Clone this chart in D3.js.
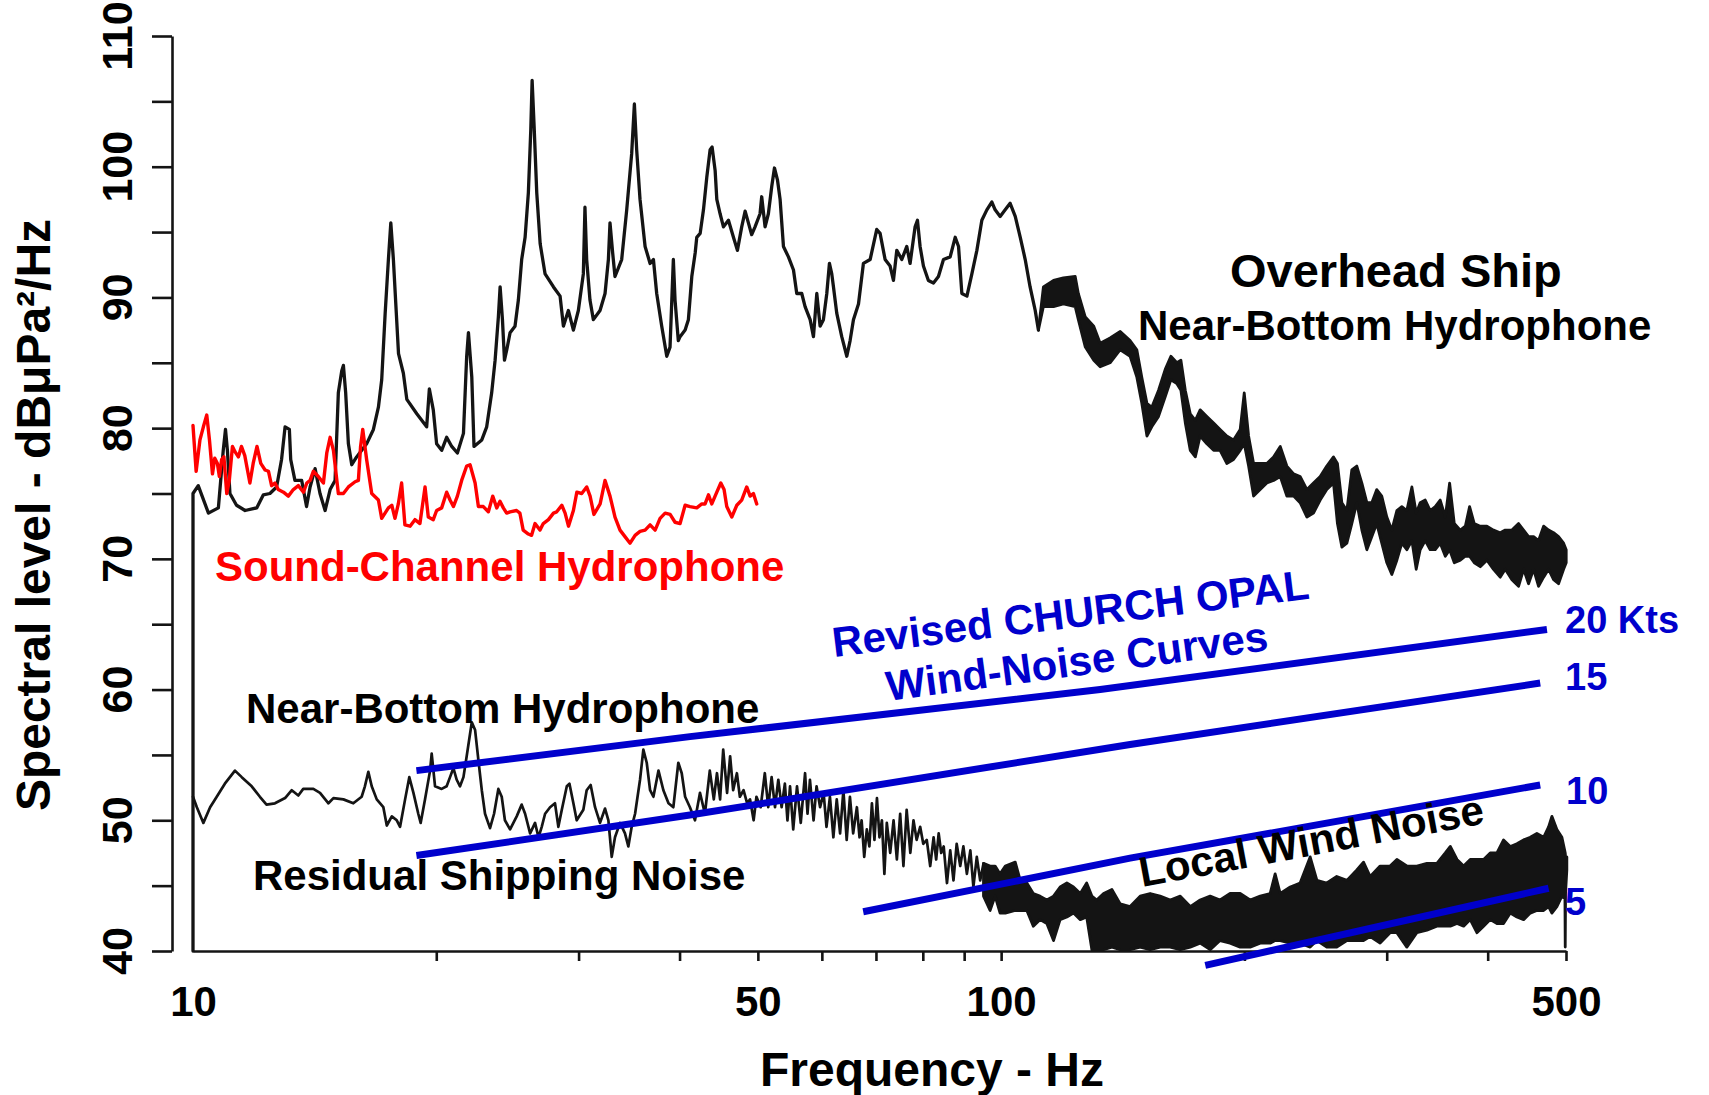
<!DOCTYPE html>
<html><head><meta charset="utf-8">
<script src="https://cdn.jsdelivr.net/npm/d3@7"></script>
<style>
html,body{margin:0;padding:0;background:#fff;}
svg{display:block;}
text{font-family:"Liberation Sans", Arial, Helvetica, sans-serif;font-weight:bold;}
</style></head><body>
<svg id="chart" width="1709" height="1095"></svg>
<script>
// ---------- axis values ----------
const xTickValues = [20,30,40,50,60,70,80,90,100,200,300,400,500];
const xLabelValues = [10,50,100,500];
const yTickValues = [40,45,50,55,60,65,70,75,80,85,90,95,100,105,110];
const yLabelValues = [40,50,60,70,80,90,100,110];

// ---------- Overhead ship, near-bottom hydrophone [Hz, dB] ----------
const shipUpperLine = [
[10,40],[10,75.0],[10.15,75.6],[10.45,73.5],[10.75,73.9],[10.9,78.3],[10.97,79.9],[11.03,78.3],[11.11,75.0],[11.32,74.1],[11.6,73.7],[11.99,73.9],[12.22,74.9],[12.45,75.0],[12.69,75.5],[12.87,77.6],[13.0,80.1],[13.16,79.9],[13.21,77.6],[13.37,76.0],[13.63,76.0],[13.82,74.0],[13.96,75.5],[14.16,76.9],[14.36,75.0],[14.57,73.7],[14.78,75.3],[14.99,76.0],[15.13,82.7],[15.28,84.4],[15.35,84.8],[15.45,82.7],[15.57,78.8],[15.72,77.2],[15.94,77.8],[16.4,78.8],[16.72,79.9],[16.96,81.6],[17.12,83.7],[17.29,88.8],[17.45,92.9],[17.57,95.7],[17.7,92.9],[17.84,89.0],[17.96,85.7],[18.21,84.2],[18.39,82.2],[18.92,81.1],[19.46,80.1],[19.61,83.0],[19.83,81.4],[20.02,78.8],[20.31,78.3],[20.6,79.3],[20.9,78.6],[21.24,78.1],[21.61,79.6],[21.81,85.5],[21.92,87.3],[22.13,83.9],[22.27,78.6],[22.77,79.1],[23.09,80.1],[23.42,82.7],[23.65,85.2],[23.87,88.5],[23.99,90.8],[24.15,88.3],[24.29,85.2],[24.45,86.0],[24.68,87.3],[25.03,87.8],[25.27,89.8],[25.51,92.9],[25.76,94.6],[26.0,98.0],[26.18,102.8],[26.28,106.6],[26.43,103.1],[26.63,98.0],[26.89,94.1],[27.27,91.8],[27.93,90.8],[28.46,90.1],[28.73,87.8],[29.14,89.0],[29.56,87.5],[29.98,89.0],[30.41,91.8],[30.55,96.9],[30.7,92.9],[30.99,89.8],[31.29,88.3],[31.89,89.0],[32.35,90.3],[32.66,92.9],[32.81,95.7],[33.06,93.4],[33.28,91.6],[33.92,92.9],[34.41,96.7],[34.9,101.0],[35.17,104.8],[35.4,101.3],[35.74,97.5],[36.26,93.9],[36.78,92.6],[37.13,92.9],[37.48,90.3],[38.02,87.8],[38.57,85.5],[38.93,86.2],[39.3,92.9],[39.49,89.8],[39.86,86.7],
[40.06,87.0],[40.64,87.5],[41.02,88.3],[41.42,91.6],[41.82,93.4],[42.01,94.6],[42.42,94.9],[42.82,96.7],[43.23,99.2],[43.64,101.3],[43.89,101.5],[44.27,99.7],[44.48,97.5],[44.9,96.4],[45.33,95.4],[45.98,95.9],[46.64,94.6],[47.17,93.6],[47.75,95.4],[48.22,96.6],[48.67,95.7],[49.13,94.8],[49.6,95.4],[50.31,96.4],[50.55,97.7],[51.04,95.4],[51.52,96.4],[52.02,98.5],[52.42,99.9],[52.87,99.0],[53.27,97.5],[53.78,93.9],[54.55,93.1],[55.34,92.1],[55.86,90.3],[56.66,90.3],[57.2,89.3],[58.03,88.3],[58.58,87.0],[59.14,90.3],[59.7,87.8],[60.27,88.3],[60.85,90.3],[61.31,92.6],[61.72,91.8],[62.02,90.8],[62.6,88.8],[63.5,87.0],[64.42,85.5],[65.03,86.7],[65.65,88.3],[66.6,89.5],[67.54,92.6],[68.85,92.9],[70.16,95.2],[70.83,94.9],[71.85,92.9],[72.88,92.4],[73.58,91.3],[74.28,93.6],[75.35,92.9],[76.43,93.9],[77.15,92.6],[78.26,95.4],[78.79,95.9],[79.38,93.9],[80.14,92.4],[81.28,91.3],[82.46,91.1],[83.64,91.6],[84.85,92.9],[86.48,93.1],[87.73,94.6],[88.57,93.9],[89.41,90.3],[90.71,90.1],[92.0,91.8],[93.32,93.6],[94.65,95.9],[96.01,96.7],[97.37,97.3],[98.31,96.7],[99.72,96.2],[101.16,96.7],[102.6,97.2],[104.1,96.2],[105.6,94.6],[107.1,92.9],[108.6,90.8],[110.2,89.0],[111.2,87.5]
];
// dense part of the same trace [Hz, low dB, high dB]
const shipUpperBand = [
[111.2,87.5,87.5],[112.8,89.3,90.8],[116.1,89.3,91.3],[119.4,89.5,91.5],[123.5,89.3,91.6],[124.6,88.3,90.3],[127.1,86.2,88.5],[130.2,85.2,87.8],[132.6,84.7,86.5],[136.4,85.0,86.9],[140.4,86.0,87.4],[144.4,85.5,86.7],[147.2,83.9,86.0],[149.3,81.9,83.9],[151.5,79.4,81.9],[153.6,80.1,81.6],[156.6,80.9,82.9],[159.6,82.4,84.5],[162.2,83.7,85.5],[165.0,83.4,85.0],[166.9,82.9,85.2],[169.0,80.4,82.9],[171.4,78.3,81.1],[173.9,77.8,80.6],[176.3,79.4,81.4],[179.7,78.8,80.9],[183.2,78.3,80.4],[186.6,78.3,79.9],[190.2,77.3,79.4],[193.9,77.6,79.1],[197.6,78.3,79.9],[199.9,78.8,82.7],[202.4,77.1,79.4],[205.3,74.8,77.3],[209.2,75.3,77.3],[213.2,75.8,77.3],[217.3,76.0,77.8],[221.5,76.3,78.6],[225.7,74.8,77.1],[230.1,74.8,76.5],[234.4,74.3,76.3],[239.0,73.2,75.3],[243.5,73.5,75.8],[248.2,74.5,76.3],[252.9,75.3,77.1],[257.8,75.8,77.8],[260.7,72.7,77.3],[264.0,70.9,74.3],[267.8,71.2,73.7],[271.6,72.7,76.8],[275.5,74.3,77.1],[279.5,72.2,75.8],[283.5,70.7,74.3],[287.5,71.7,74.3],[291.6,72.7,75.3],[295.8,71.2,74.8],[300.1,69.7,73.2],[304.4,68.8,72.2],[308.8,69.9,73.7],[313.2,71.2,74.0],[317.7,70.7,73.7],[322.3,71.4,75.5],[326.3,69.2,73.5],[330.0,70.7,74.3],[334.8,71.4,74.5],[339.6,70.7,73.7],[344.5,70.7,74.0],[349.4,71.2,74.5],[354.5,70.2,73.2],[358.9,70.7,75.8],[363.7,69.7,72.7],[370.0,69.9,72.2],[375.3,70.2,72.5],[379.9,70.2,74.0],[385.0,69.7,72.7],[391.6,69.4,72.5],[399.1,69.9,72.5],[406.7,69.2,72.2],[414.5,68.6,72.0],[420.5,69.2,72.2],[428.6,68.4,72.2],[436.8,67.9,72.7],[443.1,69.2,72.2],[449.4,68.1,71.7],[455.9,69.2,71.7],[462.4,67.9,71.4],[469.1,68.6,72.5],[475.8,69.2,72.2],[482.6,68.4,72.0],[489.5,68.1,71.7],[496.6,69.2,71.2],[500.3,69.7,70.7]
];

// ---------- Sound-channel hydrophone [Hz, dB] ----------
const soundChannel = [
[10.0,80.2],[10.09,76.7],[10.2,79.1],[10.3,80.1],[10.4,81.0],[10.48,79.1],[10.57,76.5],[10.64,77.7],[10.72,77.3],[10.78,76.3],[10.85,77.6],[10.92,77.8],[11.01,75.0],[11.09,76.0],[11.19,78.6],[11.27,78.2],[11.38,77.8],[11.48,78.6],[11.59,77.9],[11.76,75.8],[11.87,77.3],[12.0,78.6],[12.13,77.3],[12.28,76.8],[12.4,76.7],[12.51,75.6],[12.63,75.8],[12.75,75.3],[12.94,75.1],[13.12,74.8],[13.31,75.3],[13.5,75.6],[13.7,75.1],[13.83,75.8],[13.96,76.0],[14.09,76.7],[14.29,76.3],[14.5,75.8],[14.64,78.1],[14.78,79.3],[14.92,78.3],[15.13,75.0],[15.35,75.0],[15.57,75.5],[15.87,75.9],[16.02,76.0],[16.12,78.6],[16.22,79.9],[16.4,77.6],[16.64,75.0],[16.96,74.5],[17.12,73.1],[17.45,73.9],[17.62,74.1],[17.78,73.1],[17.95,74.2],[18.12,75.8],[18.29,72.6],[18.56,72.5],[18.82,73.0],[19.09,72.7],[19.37,75.5],[19.55,73.2],[19.83,73.0],[20.02,73.7],[20.31,73.9],[20.6,75.1],[20.8,74.5],[21.0,74.0],[21.24,74.8],[21.5,76.0],[21.81,77.1],[22.02,77.2],[22.34,75.8],[22.55,74.0],[22.87,74.0],[23.2,73.6],[23.49,74.8],[23.76,73.9],[23.98,74.4],[24.21,73.9],[24.44,73.5],[24.68,73.6],[25.14,73.7],[25.38,73.5],[25.62,72.2],[26.0,71.9],[26.24,71.8],[26.5,72.7],[26.87,72.2],[27.13,72.7],[27.53,73.0],[27.93,73.5],[28.19,73.6],[28.6,74.1],[28.87,73.5],[29.15,72.5],[29.56,73.7],[29.85,75.1],[30.27,75.0],[30.7,75.5],[31.0,74.8],[31.34,73.4],[31.9,74.2],[32.35,76.0],[32.81,74.8],[33.28,73.2],[33.76,72.2],[34.24,71.7],[34.74,71.2],[35.24,71.8],[35.74,72.1],[36.26,72.2],[36.78,72.6],[37.31,72.2],[37.84,73.1],[38.39,73.5],[38.94,73.4],[39.49,72.8],[40.06,72.7],[40.64,74.1],[41.21,74.0],[42.01,73.9],[42.62,74.2],[43.02,74.2],[43.44,74.9],[43.85,74.2],[44.48,75.1],[44.99,75.8],[45.41,75.3],[45.76,74.0],[46.42,73.2],[47.09,74.1],[47.75,74.5],[48.44,75.5],[48.91,74.8],[49.37,75.0],[49.84,74.2]
];

// ---------- Near-bottom hydrophone, residual shipping noise [Hz, dB] ----------
const shipLowerLine = [
[10,51.8],[10.11,51.0],[10.3,49.8],[10.5,51.0],[10.7,51.8],[10.95,52.8],[11.27,53.8],[11.49,53.3],[11.82,52.6],[12.1,51.8],[12.33,51.2],[12.63,51.3],[13.0,51.7],[13.25,52.3],[13.5,51.9],[13.69,52.4],[14.09,52.4],[14.36,52.1],[14.71,51.3],[14.92,51.7],[15.35,51.6],[15.79,51.3],[16.17,51.8],[16.32,52.6],[16.48,53.7],[16.64,52.6],[16.88,51.6],[17.2,51.0],[17.37,49.6],[17.62,50.3],[17.87,50.0],[18.04,49.5],[18.3,51.6],[18.52,53.3],[18.74,52.1],[19.0,50.5],[19.13,49.8],[19.37,51.6],[19.65,53.8],[19.74,55.1],[19.93,52.6],[20.31,52.4],[20.6,52.6],[20.8,53.3],[21.0,54.0],[21.2,53.1],[21.4,52.6],[21.61,53.3],[21.81,54.9],[22.13,57.5],[22.34,56.9],[22.55,54.6],[22.77,52.3],[22.98,50.5],[23.31,49.4],[23.58,50.5],[23.87,52.4],[24.1,51.8],[24.32,50.0],[24.68,49.3],[25.15,50.3],[25.51,51.2],[25.76,50.5],[26.13,49.0],[26.5,49.8],[26.76,48.7],[27.01,49.5],[27.27,50.5],[27.66,51.0],[28.05,51.3],[28.32,49.5],[28.6,50.8],[29.01,52.6],[29.23,52.8],[29.56,51.3],[29.84,50.0],[30.41,50.8],[30.7,52.3],[31.05,52.7],[31.44,51.0],[31.89,49.8],[32.35,50.9],[32.66,50.0],[32.97,47.2],[33.28,48.7],[33.76,49.8],[34.24,49.0],[34.57,48.0],[34.9,49.5],[35.24,50.5],[35.74,53.1],[36.08,55.4],[36.43,54.4],[36.78,52.3],[37.13,51.8],[37.67,53.8],[38.2,52.3],[38.76,51.3],[39.3,51.0],[39.86,54.4],[40.25,53.6],[40.64,51.8],
[41.2,51.0],[41.8,50.0],[42.4,52.1],[43.0,50.5],[43.6,53.8],[44.1,51.6],[44.5,53.6],[44.9,51.6],[45.3,55.4],[45.8,52.1],[46.2,54.9],[46.6,52.3],[47.1,53.6],[47.5,51.8],[48.0,52.3],[48.5,51.3],[48.9,51.6],[49.4,50.0],[49.8,51.8],[50.4,51.0],[51.0,53.6],[51.5,51.0],[52.0,53.3],[52.5,51.0],[53.0,53.1],[53.5,51.0],[54.0,52.8],[54.4,50.0],[54.8,52.6],[55.3,49.3],[55.9,52.6],[56.5,49.8],[57.2,53.6],[57.6,50.5],[58.0,53.1],[58.6,50.0],[59.1,52.6],[59.7,51.0],[60.3,52.1],[60.8,49.5],[61.4,51.8],[62.0,48.7],[62.6,51.6],[63.2,49.0],[63.8,52.3],[64.4,48.5],[65.0,51.8],[65.6,49.0],[66.3,51.0],[66.8,48.7],[67.2,50.0],[67.7,47.2],[68.2,49.3],[68.7,48.0],[69.2,51.3],[69.7,48.5],[70.2,51.7],[70.7,48.7],[71.2,50.0],[71.7,45.9],[72.2,49.8],[72.9,47.5],[73.6,50.0],[74.3,47.0],[75.0,50.5],[75.7,46.5],[76.4,50.8],[77.2,47.5],[77.9,50.0],[78.6,48.5],[79.4,49.5],[80.1,48.2],[80.9,48.5],[81.7,46.5],[82.5,48.7],[83.1,47.0],[83.7,49.0],[84.3,47.5],[84.9,48.0],[85.7,45.2],[86.5,47.7],[87.3,45.4],[88.1,48.2],[89.0,46.5],[89.8,48.0],[90.7,45.9],[91.6,47.7],[92.4,44.9],[93.3,47.2],[94.2,45.4],[95.1,46.7]
];
const shipLowerBand = [
[95.1,44.2,46.7],[96.9,43.1,46.5],[98.3,44.2,46.5],[99.7,42.9,45.9],[101.2,42.9,46.5],[104.1,43.1,46.8],[105.6,43.1,45.4],[107.6,43.1,45.2],[109.6,41.9,44.4],[111.7,42.4,44.2],[113.9,42.1,43.9],[116.1,40.8,44.2],[118.3,42.4,44.9],[120.6,42.6,45.2],[122.9,42.9,44.9],[125.3,42.4,44.4],[127.6,42.6,45.2],[129.5,40.1,44.2],[131.3,40.1,43.9],[133.9,40.1,44.4],[137.1,40.3,44.7],[140.4,40.1,43.6],[144.4,40.1,43.4],[148.6,40.3,44.2],[152.9,40.1,44.4],[157.3,40.3,44.2],[161.9,40.3,43.9],[166.6,40.1,44.2],[171.4,40.3,43.4],[176.3,40.6,43.9],[181.4,40.1,44.2],[186.6,40.8,43.9],[192.0,40.6,44.4],[197.6,40.3,44.4],[203.3,40.3,43.9],[209.2,40.6,44.2],[215.2,40.6,44.4],[218.3,40.8,45.9],[221.5,40.8,44.4],[227.9,40.6,44.9],[234.4,40.6,45.2],[241.2,40.3,47.2],[245.9,40.8,45.4],[252.9,40.3,45.2],[260.2,40.3,45.7],[267.8,40.8,45.4],[275.5,40.8,46.2],[280.8,40.8,46.8],[286.2,41.1,45.7],[294.4,40.6,46.5],[302.9,41.4,46.5],[308.8,41.4,47.0],[317.7,40.3,46.5],[326.9,41.4,46.5],[336.4,41.6,46.7],[346.1,41.9,46.7],[354.5,41.9,47.5],[359.6,41.9,48.0],[366.5,42.1,47.0],[373.5,41.9,46.5],[380.6,42.4,47.0],[387.9,41.4,47.0],[395.4,41.9,47.0],[402.9,42.4,47.5],[410.7,42.1,47.5],[418.5,42.1,48.5],[426.6,42.9,48.0],[434.7,42.6,48.2],[443.1,42.4,48.5],[451.6,42.9,48.7],[460.2,43.1,49.0],[469.1,43.1,48.7],[475.8,43.4,49.5],[480.3,42.9,50.3],[487.2,43.4,49.3],[494.2,44.2,48.7],[498.5,44.0,47.6],[498.9,40.3,47.5],[499.4,44.5,47.2],[501.2,46.2,47.2]
];

// ---------- Revised CHURCH OPAL wind-noise curves [Hz, dB] ----------
const wind20 = [[18.9,53.8],[41.2,56.4],[132.6,60.0],[473.6,64.6]];
const wind15 = [[18.9,47.3],[41.2,50.4],[144.4,55.8],[464.6,60.5]];
const wind10 = [[67.5,43.0],[144.4,47.1],[464.6,52.7]];
const wind5  = [[178.9,38.9],[475.8,44.8]];

// ---------- drawing ----------
const svg = d3.select("#chart");
svg.append("rect").attr("width",1709).attr("height",1095).attr("fill","#fff");

const x = d3.scaleLog().domain([10,500]).range([193,1566]);
const y = d3.scaleLinear().domain([40,110]).range([951,36]);

const ink = "#141414", blue = "#0000cc", red = "#ff0000";
const FONT = '"Liberation Sans", Arial, Helvetica, sans-serif';

// axes
const gx = svg.append("g").attr("transform","translate(0,951)")
  .call(d3.axisBottom(x).tickValues(xTickValues).tickSize(10).tickSizeOuter(0).tickFormat(""));
gx.selectAll("path,line").attr("stroke",ink).attr("stroke-width",2.6);

const gxl = svg.append("g").attr("transform","translate(0,951)")
  .call(d3.axisBottom(x).tickValues(xLabelValues).tickSize(0).tickPadding(35).tickFormat(d3.format("d")));
gxl.select(".domain").remove();
gxl.selectAll("text").attr("fill","#000").style("font-family",FONT).style("font-weight","bold").style("font-size","42px");

const gy = svg.append("g").attr("transform","translate(172,0)")
  .call(d3.axisLeft(y).tickValues(yTickValues).tickSize(20).tickSizeOuter(0).tickFormat(""));
gy.selectAll("path,line").attr("stroke",ink).attr("stroke-width",2.6);

svg.append("g").selectAll("text").data(yLabelValues).join("text")
  .attr("transform", d => `translate(132,${y(d)}) rotate(-90)`)
  .attr("text-anchor","middle").attr("fill","#000")
  .style("font-size","43px").text(d => d);

// traces
const line = d3.line().x(d => x(d[0])).y(d => y(d[1]));
const band = d3.area().x(d => x(d[0])).y0(d => y(d[1])).y1(d => y(d[2]));

function drawLine(data, color, w){
  svg.append("path").datum(data).attr("d",line).attr("fill","none")
    .attr("stroke",color).attr("stroke-width",w).attr("stroke-linejoin","round").attr("stroke-linecap","round");
}
function drawBand(data, color){
  svg.append("path").datum(data).attr("d",band).attr("fill",color)
    .attr("stroke",color).attr("stroke-width",2.8).attr("stroke-linejoin","round");
}

drawLine(shipUpperLine, ink, 3.3);
drawBand(shipUpperBand, ink);
drawLine(shipLowerLine, ink, 2.7);
drawBand(shipLowerBand, ink);
drawLine(soundChannel, red, 3.4);

[wind20, wind15, wind10, wind5].forEach(w => {
  svg.append("path").datum(w).attr("d",line).attr("fill","none")
    .attr("stroke",blue).attr("stroke-width",7).attr("stroke-linecap","butt").attr("stroke-linejoin","round");
});

// annotations
function label(txt, opts){
  const t = svg.append("text").text(txt)
    .attr("fill", opts.color || "#000")
    .style("font-size", (opts.size || 42) + "px");
  if (opts.rotate !== undefined) t.attr("transform", `translate(${opts.x},${opts.y}) rotate(${opts.rotate})`);
  else t.attr("x", opts.x).attr("y", opts.y);
  if (opts.anchor) t.attr("text-anchor", opts.anchor);
  return t;
}
label("Overhead Ship", {x:1230, y:287, size:47});
label("Near-Bottom Hydrophone", {x:1138, y:340});
label("Sound-Channel Hydrophone", {x:215, y:581, color:red});
label("Near-Bottom Hydrophone", {x:246, y:723});
label("Residual Shipping Noise", {x:253, y:890});
label("Revised CHURCH OPAL", {x:834, y:657, rotate:-7, color:blue});
label("Wind-Noise Curves", {x:888, y:701, rotate:-7.6, color:blue});
label("Local Wind Noise", {x:1142, y:887, rotate:-10.5});
label("20 Kts", {x:1565, y:633, size:38, color:blue});
label("15", {x:1565, y:690, size:38, color:blue});
label("10", {x:1566, y:804, size:38, color:blue});
label("5", {x:1565, y:915, size:38, color:blue});

label("Frequency - Hz", {x:932, y:1086, size:48, anchor:"middle"});
label("Spectral level - dBμPa²/Hz", {x:50, y:515, size:48, rotate:-90, anchor:"middle"});
</script>
</body></html>
